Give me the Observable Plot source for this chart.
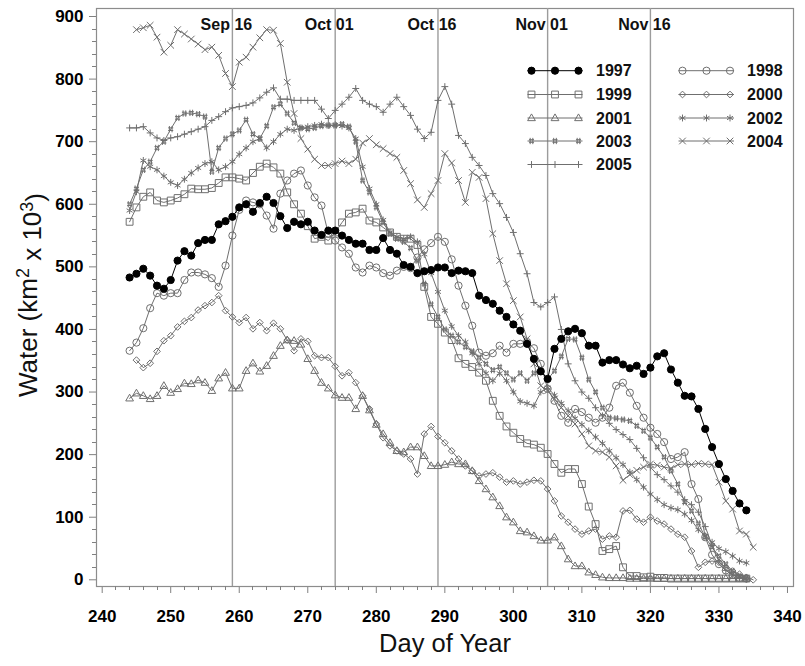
<!DOCTYPE html>
<html>
<head>
<meta charset="utf-8">
<script src="https://cdn.jsdelivr.net/npm/d3@7"></script>
<script src="https://cdn.jsdelivr.net/npm/@observablehq/plot@0.6"></script>
<style>
  html, body { margin: 0; padding: 0; background: #fff; }
  #chart { width: 805px; height: 666px; }
</style>
</head>
<body>
<div id="chart"></div>
<script>
// ---------------- data (day of year vs. water, km^2 x 10^3) ----------------
const start1997 = 244;
const water1997 = [483,489,497,486,470,465,479,510,525,518,
  538,543,543,568,573,580,595,600,588,602,
  612,602,581,562,572,568,572,558,551,558,
  558,550,543,537,537,527,527,546,527,521,
  503,500,490,493,495,499,499,490,494,493,
  490,454,447,441,430,420,408,398,377,353,
  333,321,369,385,397,401,394,374,374,347,
  351,351,344,338,342,329,339,357,362,336,
  315,294,293,273,241,212,185,161,142,122,111];

const start1998 = 244;
const water1998 = [366,379,402,434,458,454,458,458,479,491,
  491,488,482,468,502,550,591,606,603,600,
  582,561,617,638,649,654,630,611,598,553,
  542,531,521,499,491,502,499,490,486,494,
  500,498,515,528,538,548,540,512,470,438,
  406,363,358,362,374,363,377,377,380,370,
  345,305,286,262,251,273,268,259,251,259,
  275,310,315,299,278,259,243,233,220,193,
  196,204,153,129,68,40,25,15,8,3,2];

const start1999 = 244;
const water1999 = [572,595,612,619,606,603,606,610,616,625,
  624,624,626,634,643,643,641,638,650,660,
  665,659,649,619,600,585,565,545,548,542,
  555,571,585,587,593,574,571,563,555,548,
  545,545,535,468,420,409,395,383,354,345,
  340,331,318,286,262,245,235,225,218,216,
  211,201,185,171,177,177,153,117,89,46,
  49,54,20,6,6,4,5,3,3,2,
  2,2,2,2,2,2,2,2,2,2,2];

const start2000 = 245;
const water2000 = [351,339,346,365,382,390,404,413,419,431,
  438,443,454,430,420,411,419,401,411,398,
  410,401,383,366,385,381,358,355,355,341,
  326,331,315,294,273,249,227,214,206,201,
  193,169,233,245,229,219,206,193,182,174,
  166,169,171,164,156,158,153,156,159,158,
  145,126,102,92,81,73,78,81,65,70,
  68,110,111,97,92,100,94,89,81,73,
  68,46,20,28,30,28,20,14,9,4,0];

const start2001 = 244;
const water2001 = [290,298,294,289,294,310,299,305,314,313,
  319,315,302,322,331,306,306,334,346,333,
  342,358,374,383,382,376,353,334,315,306,
  295,291,291,273,294,271,248,233,219,206,
  204,212,212,198,182,182,184,188,185,185,
  174,158,145,132,118,100,92,78,76,70,
  63,63,68,54,33,22,22,12,8,4,
  3,3,3,2,2,2,2,2,2,2,
  2,2,2,2,2,2,2,2,2,2,2];

const start2002 = 244;
const water2002 = [590,620,670,660,655,645,635,630,640,650,
  658,665,668,655,660,668,680,690,700,705,
  690,700,712,720,718,722,724,726,728,726,
  727,725,722,705,660,625,600,575,555,548,
  545,548,540,520,490,460,430,405,390,380,
  362,345,330,318,330,318,300,285,282,278,
  300,307,295,282,270,258,248,238,228,218,
  206,195,184,172,160,148,137,128,120,115,
  112,105,95,80,70,60,50,45,38,30,27];

const start2003 = 244;
const water2003 = [600,625,655,668,690,700,720,738,745,746,
  744,740,652,690,705,712,718,735,712,705,
  725,755,760,745,730,722,720,722,725,726,
  726,728,724,700,638,619,595,571,553,545,
  540,530,510,473,440,420,400,390,380,372,
  365,355,345,335,340,330,320,330,318,330,
  336,320,334,357,385,384,355,320,300,275,
  259,258,256,254,246,238,227,212,196,174,
  153,124,110,90,68,52,38,25,14,6,2];

const start2004 = 245;
const water2004 = [879,882,886,867,843,854,879,872,864,856,
  847,851,838,809,788,827,835,851,866,879,
  878,857,795,745,705,688,672,662,662,665,
  669,665,672,698,705,695,689,681,675,654,
  633,607,595,617,638,681,666,638,603,651,
  643,609,553,510,473,446,420,385,345,310,
  302,289,275,262,249,233,214,206,204,196,
  182,159,168,175,180,185,183,180,178,184,
  185,184,186,185,184,156,126,113,78,73,52];

const start2005 = 244;
const water2005 = [722,722,724,714,706,702,706,708,712,716,
  720,724,734,740,748,754,756,758,762,770,
  779,786,768,768,766,766,766,766,752,737,
  750,760,771,785,766,760,756,747,760,771,
  756,742,720,705,715,766,788,760,710,697,
  675,662,646,617,601,579,555,521,489,443,
  436,443,452,400,345,318,300,290,275,262,
  250,240,232,224,210,195,180,168,160,150,
  140,128,120,108,85,55,30,15,8,3,1];

// reference dates (vertical lines) and tick values
const refDays = [259, 274, 289, 305, 320];
const refLabels = ["Sep 16", "Oct 01", "Oct 16", "Nov 01", "Nov 16"];
const xTicks = [240, 250, 260, 270, 280, 290, 300, 310, 320, 330, 340];
const yTicks = [0, 100, 200, 300, 400, 500, 600, 700, 800, 900];
const legendCol1 = ["1997", "1999", "2001", "2003", "2005"];
const legendCol2 = ["1998", "2000", "2002", "2004"];

// ---------------- symbols ----------------
const symHash = {draw(ctx, size) {
  const s = Math.sqrt(size / Math.PI) * 1.05, a = s * 0.42;
  ctx.moveTo(-a, -s); ctx.lineTo(-a, s); ctx.moveTo(a, -s); ctx.lineTo(a, s);
  ctx.moveTo(-s * 0.8, -a); ctx.lineTo(s * 0.8, -a); ctx.moveTo(-s * 0.8, a); ctx.lineTo(s * 0.8, a);
}};
const symPlus = {draw(ctx, size) {
  const s = Math.sqrt(size / Math.PI) * 1.15;
  ctx.moveTo(-s, 0); ctx.lineTo(s, 0); ctx.moveTo(0, -s); ctx.lineTo(0, s);
}};
const symTimes = {draw(ctx, size) {
  const s = Math.sqrt(size / Math.PI);
  ctx.moveTo(-s, -s); ctx.lineTo(s, s); ctx.moveTo(-s, s); ctx.lineTo(s, -s);
}};
const symAst = {draw(ctx, size) {
  const s = Math.sqrt(size / Math.PI) * 1.15;
  for (const deg of [90, 30, 150]) {
    const r = deg * Math.PI / 180;
    ctx.moveTo(-s * Math.cos(r), -s * Math.sin(r));
    ctx.lineTo(s * Math.cos(r), s * Math.sin(r));
  }
}};
const symDiamond = {draw(ctx, size) {
  const s = Math.sqrt(size / Math.PI) * 1.2;
  ctx.moveTo(0, -s); ctx.lineTo(s, 0); ctx.lineTo(0, s); ctx.lineTo(-s, 0); ctx.closePath();
}};
const symSquare = {draw(ctx, size) {
  const s = Math.sqrt(size / Math.PI) * 0.95;
  ctx.rect(-s, -s, 2 * s, 2 * s);
}};
const symTriangle = {draw(ctx, size) {
  const s = Math.sqrt(size / Math.PI) * 1.2;
  ctx.moveTo(0, -s); ctx.lineTo(s * 0.95, s * 0.65); ctx.lineTo(-s * 0.95, s * 0.65); ctx.closePath();
}};
const symCircle = {draw(ctx, size) {
  const s = Math.sqrt(size / Math.PI);
  ctx.moveTo(s, 0); ctx.arc(0, 0, s, 0, 2 * Math.PI);
}};

const gray = "#6f6f6f";
const styles = {
  "1997": {sym: symCircle, r: 3.6, fill: "#000", stroke: "#000", line: "#000"},
  "1998": {sym: symCircle, r: 3.6, fill: "none", stroke: gray, line: gray},
  "1999": {sym: symSquare, r: 3.6, fill: "none", stroke: gray, line: gray},
  "2000": {sym: symDiamond, r: 2.8, fill: "none", stroke: gray, line: gray},
  "2001": {sym: symTriangle, r: 3.4, fill: "none", stroke: gray, line: gray},
  "2002": {sym: symAst, r: 3.0, fill: "none", stroke: gray, line: gray},
  "2003": {sym: symHash, r: 3.0, fill: "none", stroke: gray, line: gray},
  "2004": {sym: symTimes, r: 3.3, fill: "none", stroke: gray, line: gray},
  "2005": {sym: symPlus, r: 3.0, fill: "none", stroke: gray, line: gray}
};

function rows(year, start, values) {
  return values.map((w, i) => ({year, day: start + i, water: w}));
}
const seriesData = [
  ["2005", rows("2005", start2005, water2005)],
  ["2004", rows("2004", start2004, water2004)],
  ["2003", rows("2003", start2003, water2003)],
  ["2002", rows("2002", start2002, water2002)],
  ["2001", rows("2001", start2001, water2001)],
  ["2000", rows("2000", start2000, water2000)],
  ["1999", rows("1999", start1999, water1999)],
  ["1998", rows("1998", start1998, water1998)],
  ["1997", rows("1997", start1997, water1997)]
];

const seriesMarks = [];
for (const [year, data] of seriesData) {
  const st = styles[year];
  seriesMarks.push(Plot.line(data, {x: "day", y: "water", stroke: st.line, strokeWidth: 1}));
  seriesMarks.push(Plot.dot(data, {x: "day", y: "water", symbol: st.sym, r: st.r,
    fill: st.fill, stroke: st.stroke, strokeWidth: 1}));
}

const font = "'Liberation Sans', Arial, Helvetica, sans-serif";

const chart = Plot.plot({
  width: 805,
  height: 666,
  marginLeft: 96,
  marginRight: 12,
  marginTop: 8,
  marginBottom: 80,
  style: {fontFamily: font, fontSize: "17px", fontWeight: "bold", color: "#000", background: "#fff", overflow: "visible"},
  x: {domain: [239.17, 340.88], ticks: xTicks, tickSize: 7, tickPadding: 16, tickFormat: d => String(d), label: null},
  y: {domain: [-10.7, 912.8], ticks: yTicks, tickSize: 7, tickPadding: 6, tickFormat: d => String(d), label: null},
  marks: [
    Plot.frame({stroke: "#8c8c8c", strokeWidth: 1.2}),
    Plot.ruleX(refDays, {stroke: "#9c9c9c", strokeWidth: 1.4}),
    Plot.text(refLabels, {x: (d, i) => refDays[i], text: d => d, frameAnchor: "top", dy: 10, dx: -6,
      fontSize: 16, fontWeight: "bold", fill: "#111"}),
    ...seriesMarks
  ]
});

document.getElementById("chart").appendChild(chart);

// ---------------- post-processing: axis styling, minor ticks, titles, legend ----------------
const svg = d3.select(chart);
const axisGray = "#808080";
svg.selectAll('[aria-label="x-axis tick"], [aria-label="y-axis tick"]').attr("stroke", axisGray);
svg.selectAll('[aria-label="x-axis"] .tick line, [aria-label="y-axis"] .tick line, [aria-label="x-axis"] .domain, [aria-label="y-axis"] .domain').attr("stroke", axisGray);

const sx = chart.scale("x"), sy = chart.scale("y");
const bottom = 666 - 80, left = 96;
const minorX = d3.range(242, 340, 2).filter(d => d % 10 !== 0);
const minorY = d3.range(20, 900, 20).filter(d => d % 100 !== 0);
const mg = svg.append("g").attr("stroke", axisGray).attr("stroke-width", 1);
mg.selectAll(null).data(minorX).join("line")
  .attr("x1", d => Math.round(sx.apply(d)) + 0.5).attr("x2", d => Math.round(sx.apply(d)) + 0.5)
  .attr("y1", bottom).attr("y2", bottom + 4);
mg.selectAll(null).data(minorY).join("line")
  .attr("y1", d => Math.round(sy.apply(d)) + 0.5).attr("y2", d => Math.round(sy.apply(d)) + 0.5)
  .attr("x1", left).attr("x2", left - 4);

// axis titles
svg.append("text")
  .attr("x", 445).attr("y", 652)
  .attr("text-anchor", "middle")
  .style("font-family", font).style("font-size", "25.5px").style("font-weight", "normal")
  .attr("fill", "#111")
  .text("Day of Year");

const yt = svg.append("text")
  .attr("transform", "translate(37,295) rotate(-90)")
  .attr("text-anchor", "middle")
  .style("font-family", font).style("font-size", "26px").style("font-weight", "normal")
  .attr("fill", "#111");
yt.append("tspan").text("Water (km");
yt.append("tspan").attr("dy", "-0.45em").style("font-size", "18px").text("2");
yt.append("tspan").attr("dy", "0.45em").text(" x 10");
yt.append("tspan").attr("dy", "-0.45em").style("font-size", "18px").text("3");
yt.append("tspan").attr("dy", "0.45em").text(")");

// legend
const lg = svg.append("g").attr("text-anchor", "start");
const rowY = [70.7, 94.5, 118, 141, 164.5];
function legendEntry(year, xs, labelX, y) {
  const st = styles[year];
  lg.append("line").attr("x1", xs[0] - 4).attr("x2", xs[2] + 4).attr("y1", y).attr("y2", y)
    .attr("stroke", st.line).attr("stroke-width", 1);
  for (const x of xs) {
    lg.append("path")
      .attr("d", d3.symbol().type(st.sym).size(st.r * st.r * Math.PI)())
      .attr("transform", `translate(${x},${y})`)
      .attr("fill", st.fill).attr("stroke", st.stroke).attr("stroke-width", 1);
  }
  lg.append("text").attr("x", labelX).attr("y", y).attr("dy", "0.36em")
    .attr("text-anchor", "start")
    .style("font-family", font).style("font-size", "16px").style("font-weight", "bold")
    .attr("fill", "#111").text(year);
}
legendCol1.forEach((yr, i) => legendEntry(yr, [531.5, 555, 578.5], 596, rowY[i]));
legendCol2.forEach((yr, i) => legendEntry(yr, [682.5, 706.5, 730], 747, rowY[i]));
</script>
</body>
</html>
